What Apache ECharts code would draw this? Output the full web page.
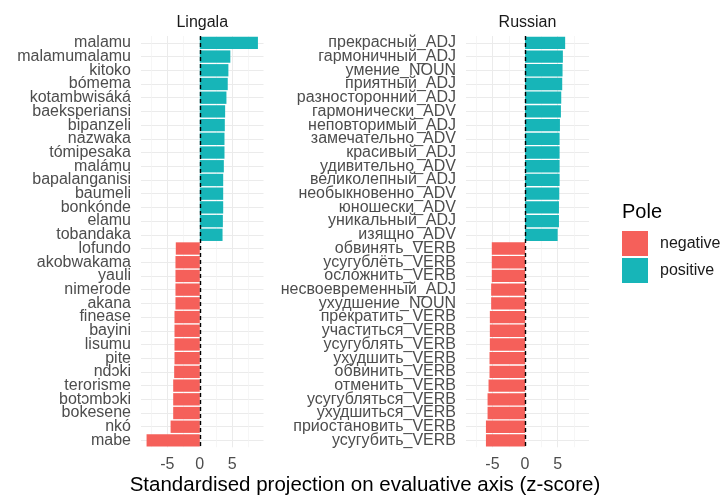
<!DOCTYPE html>
<html>
<head>
<meta charset="utf-8">
<script src="https://cdn.jsdelivr.net/npm/echarts@6/dist/echarts.min.js"></script>
<style>
html,body{margin:0;padding:0;background:#fff;}
#chart{width:721px;height:497px;}
</style>
</head>
<body>
<div id="chart"></div>
<script>
// ---- data ----
const lingalaWords = ['malamu','malamumalamu','kitoko','bómema','kotambwisáká','baeksperiansi','bipanzeli','nazwaka','tómipesaka','malámu','bapalanganisi','baumeli','bonkónde','elamu','tobandaka','lofundo','akobwakama','yauli','nimerode','akana','finease','bayini','lisumu','pite','ndɔki','terorisme','botɔmbɔki','bokesene','nkó','mabe'];
const lingalaScores = [8.95, 4.7, 4.4, 4.3, 4.1, 3.9, 3.85, 3.8, 3.8, 3.7, 3.6, 3.6, 3.6, 3.55, 3.5, -3.7, -3.75, -3.75, -3.75, -3.75, -3.9, -3.9, -3.9, -3.9, -3.95, -4.1, -4.1, -4.1, -4.5, -8.2];
const russianWords = ['прекрасный_ADJ','гармоничный_ADJ','умение_NOUN','приятный_ADJ','разносторонний_ADJ','гармонически_ADV','неповторимый_ADJ','замечательно_ADV','красивый_ADJ','удивительно_ADV','великолепный_ADJ','необыкновенно_ADV','юношески_ADV','уникальный_ADJ','изящно_ADV','обвинять_VERB','усугублёть_VERB','осложнить_VERB','несвоевременный_ADJ','ухудшение_NOUN','прекратить_VERB','участиться_VERB','усугублять_VERB','ухудшить_VERB','обвинить_VERB','отменить_VERB','усугубляться_VERB','ухудшиться_VERB','приостановить_VERB','усугубить_VERB'];
const russianScores = [6.15, 5.8, 5.75, 5.7, 5.55, 5.5, 5.35, 5.3, 5.3, 5.3, 5.3, 5.25, 5.2, 5.2, 5.0, -5.1, -5.1, -5.1, -5.2, -5.2, -5.4, -5.4, -5.4, -5.45, -5.45, -5.6, -5.75, -5.75, -6.0, -6.0];
const panelNames = ['Lingala', 'Russian'];
const poleNames = ['negative', 'positive'];
const xTicks = [-5, 0, 5];
const majorGrid = [-5, 0, 5];
const minorGrid = [-7.5, -2.5, 2.5, 7.5];
const xTitle = 'Standardised projection on evaluative axis (z-score)';
const legendTitle = 'Pole';

// ---- layout / style ----
const FONT = '"Liberation Sans", Arial, Helvetica, sans-serif';
const COLORS = {negative: '#F5605A', positive: '#17B5B8'};
const allVals = lingalaScores.concat(russianScores);
const lo = Math.min.apply(null, allVals), hi = Math.max.apply(null, allVals);
const pad = 0.05 * (hi - lo);
const xMin = lo - pad, xMax = hi + pad;

const grids = [
  {left: 141, top: 36, width: 122.5, height: 411.3},
  {left: 466, top: 36, width: 123, height: 411.3}
];

const panels = [
  {words: lingalaWords, scores: lingalaScores},
  {words: russianWords, scores: russianScores}
];

const xAxes = [], yAxes = [], series = [];
panels.forEach(function (p, i) {
  xAxes.push({
    type: 'value', gridIndex: i, min: xMin, max: xMax,
    axisLine: {show: false}, axisTick: {show: false},
    splitLine: {show: false},
    axisLabel: {customValues: xTicks, fontSize: 16, color: '#4D4D4D', fontFamily: FONT, margin: 9}
  });
  yAxes.push({
    type: 'category', gridIndex: i, inverse: true, data: p.words,
    axisLine: {show: false}, axisTick: {show: false},
    axisLabel: {interval: 0, fontSize: 16, color: '#4D4D4D', fontFamily: FONT, margin: 10},
    splitLine: {show: true, interval: 0, alignWithLabel: true, lineStyle: {color: '#EBEBEB', width: 1}}
  });
  const gridLines = majorGrid.map(function (v) {
    return {xAxis: v, lineStyle: {color: '#EBEBEB', width: 1, type: 'solid'}};
  }).concat(minorGrid.map(function (v) {
    return {xAxis: v, lineStyle: {color: '#F2F2F2', width: 0.7, type: 'solid'}};
  }));
  poleNames.forEach(function (pole, k) {
    const vals = p.scores.map(function (v) {
      return (pole === 'positive' ? v > 0 : v < 0) ? v : '-';
    });
    const s = {
      name: pole, type: 'bar', xAxisIndex: i, yAxisIndex: i,
      stack: 'panel' + i, barWidth: '90%', data: vals,
      itemStyle: {color: COLORS[pole]},
      silent: true, animation: false
    };
    if (k === 0) {
      s.markLine = {z: 1, silent: true, symbol: ['none', 'none'], label: {show: false},
        animation: false, emphasis: {disabled: true}, data: gridLines};
    } else {
      s.markLine = {z: 5, silent: true, symbol: ['none', 'none'], label: {show: false},
        animation: false, emphasis: {disabled: true},
        data: [{xAxis: 0, lineStyle: {color: '#000', width: 1.4, type: [4, 3]}}]};
    }
    series.push(s);
  });
});

const graphics = [];
panelNames.forEach(function (name, i) {
  graphics.push({type: 'text', x: grids[i].left + grids[i].width / 2, y: 23,
    style: {text: name, fontSize: 16, fill: '#1A1A1A', fontFamily: FONT, textAlign: 'center', textVerticalAlign: 'middle'}});
});
graphics.push({type: 'text', x: (grids[0].left + grids[1].left + grids[1].width) / 2, y: 485,
  style: {text: xTitle, fontSize: 20.5, fill: '#000', fontFamily: FONT, textAlign: 'center', textVerticalAlign: 'middle'}});
graphics.push({type: 'text', x: 622, y: 212,
  style: {text: legendTitle, fontSize: 20, fill: '#000', fontFamily: FONT, textAlign: 'left', textVerticalAlign: 'middle'}});

const chart = echarts.init(document.getElementById('chart'), null, {renderer: 'canvas'});
chart.setOption({
  animation: false,
  backgroundColor: '#fff',
  grid: grids,
  xAxis: xAxes,
  yAxis: yAxes,
  series: series,
  legend: {
    data: poleNames, orient: 'vertical', left: 622, top: 231, padding: 0,
    itemWidth: 26, itemHeight: 25, itemGap: 2, icon: 'rect',
    selectedMode: false,
    textStyle: {fontSize: 16, color: '#1A1A1A', fontFamily: FONT, padding: [0, 0, 0, 7]}
  },
  graphic: graphics
});
</script>
</body>
</html>
